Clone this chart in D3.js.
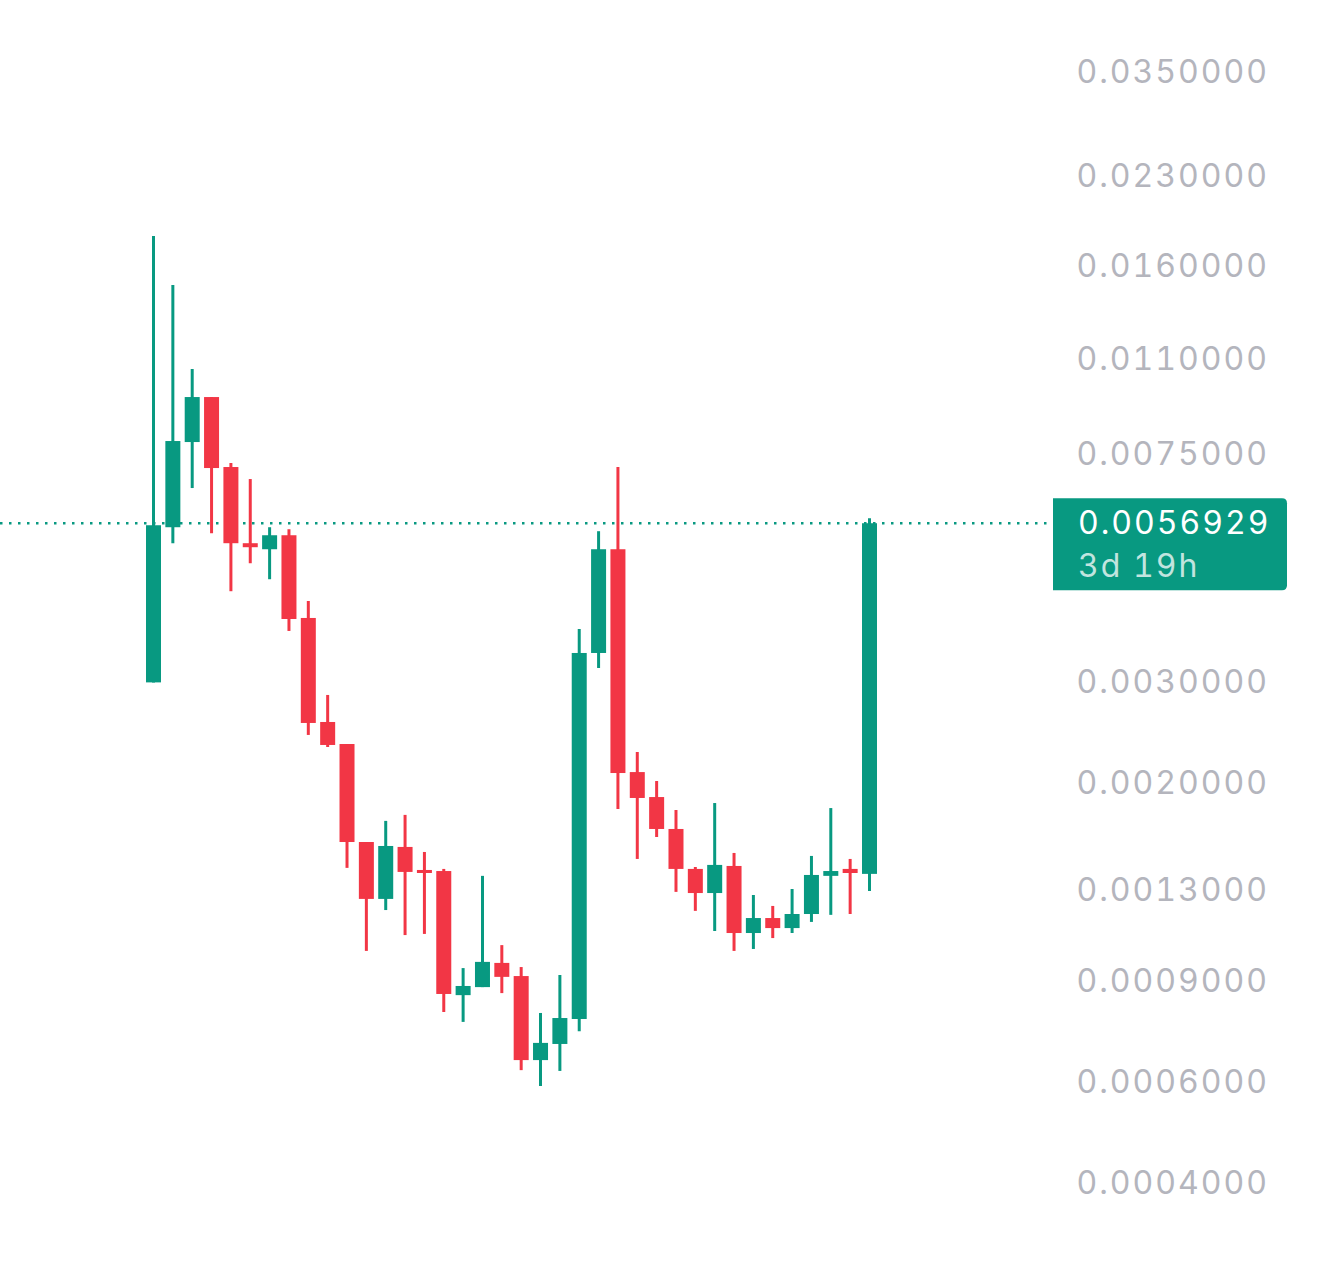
<!DOCTYPE html>
<html>
<head>
<meta charset="utf-8">
<script src="https://cdn.jsdelivr.net/npm/d3@7"></script>
<style>
  html, body { margin: 0; padding: 0; background: #fff; }
  svg { display: block; }
  text { font-variant-numeric: tabular-nums; font-feature-settings: "tnum" 1; }
</style>
</head>
<body>
<div id="chart"></div>
<script>
// daily candles, oldest first
var opens  = [0.003000, 0.005602, 0.007893, 0.009460, 0.007138, 0.005253, 0.005127, 0.005424, 0.003888, 0.002558,
              0.002341, 0.001578, 0.001255, 0.001547, 0.001410, 0.001404, 0.000852, 0.000880, 0.000970, 0.000920,
              0.000656, 0.000700, 0.000774, 0.003377, 0.005127, 0.002091, 0.001891, 0.001663, 0.001416, 0.001285,
              0.001433, 0.001094, 0.001162, 0.001116, 0.001181, 0.001377, 0.001416, 0.001388];
var highs  = [0.018090, 0.014850, 0.010590, 0.009460, 0.007254, 0.006801, 0.005602, 0.005557, 0.004163, 0.002852,
              0.002341, 0.001578, 0.001718, 0.001760, 0.001516, 0.001416, 0.000950, 0.001377, 0.001042, 0.000954,
              0.000793, 0.000924, 0.003719, 0.005513, 0.007138, 0.002267, 0.002017, 0.001795, 0.001427, 0.001846,
              0.001510, 0.001275, 0.001220, 0.001306, 0.001492, 0.001809, 0.001474, 0.005809];
var lows   = [0.003000, 0.005253, 0.006559, 0.005468, 0.004330, 0.004846, 0.004544, 0.003690, 0.002428, 0.002313,
              0.001422, 0.001018, 0.001200, 0.001085, 0.001090, 0.000796, 0.000765, 0.000880, 0.000859, 0.000630,
              0.000591, 0.000628, 0.000737, 0.003179, 0.001802, 0.001474, 0.001610, 0.001291, 0.001196, 0.001103,
              0.001018, 0.001026, 0.001072, 0.001094, 0.001144, 0.001177, 0.001181, 0.001296];
var closes = [0.005647, 0.007925, 0.009460, 0.007109, 0.005253, 0.005169, 0.005424, 0.003872, 0.002548, 0.002332,
              0.001578, 0.001255, 0.001553, 0.001399, 0.001393, 0.000856, 0.000884, 0.000974, 0.000917, 0.000656,
              0.000703, 0.000777, 0.003377, 0.005127, 0.002083, 0.001884, 0.001663, 0.001416, 0.001285, 0.001439,
              0.001094, 0.001162, 0.001116, 0.001181, 0.001382, 0.001404, 0.001393, 0.0056929];

var priceTicks = [0.035, 0.023, 0.016, 0.011, 0.0075, 0.003, 0.002, 0.0013, 0.0009, 0.0006, 0.0004, 0.00026];
var lastLabel = "0.0056929";
var countdown = "3d 19h";

var width = 1320, height = 1277;
var up = "#089981", down = "#f23645";
var fontSize = "32px", spacing = "2px";

var candles = opens.map(function (o, i) {
  return { i: i, open: o, high: highs[i], low: lows[i], close: closes[i] };
});

var svg = d3.select("#chart").append("svg").
attr("width", width).
attr("height", height).
style("font-family", "Inter, 'Noto Sans', sans-serif");

svg.append("rect").attr("width", width).attr("height", height).attr("fill", "#fff");

var xScale = d3.scalePoint().domain(d3.range(candles.length)).range([153.5, 869.5]);
var yScale = d3.scaleLog().domain([0.035, 0.0004]).range([72, 1183]);

// price axis
var yAxis = d3.axisLeft(yScale).tickValues(priceTicks).tickFormat(d3.format(".7f")).
tickSize(0).tickPadding(0);

var ax = svg.append("g").
attr("transform", "translate(1269,0)").
call(yAxis);
ax.select(".domain").remove();
ax.selectAll("text").
attr("fill", "#b4b5bd").
style("font-size", fontSize).
style("letter-spacing", spacing).
style("font-family", "Inter, 'Noto Sans', sans-serif");

// last price line
var lastY = yScale(closes[closes.length - 1]);
svg.append("line").
attr("x1", 0).attr("x2", 1053).
attr("y1", lastY).attr("y2", lastY).
attr("stroke", up).
attr("stroke-width", 2.5).
attr("stroke-dasharray", "2.5 6.5");

// candles
var g = svg.append("g");
g.selectAll("line.wick").
data(candles).
enter().
append("line").
attr("class", "wick").
attr("x1", function (d) {return xScale(d.i);}).
attr("x2", function (d) {return xScale(d.i);}).
attr("y1", function (d) {return yScale(d.high);}).
attr("y2", function (d) {return yScale(d.low);}).
attr("stroke", function (d) {return d.close >= d.open ? up : down;}).
attr("stroke-width", 3);

g.selectAll("rect.body").
data(candles).
enter().
append("rect").
attr("class", "body").
attr("x", function (d) {return xScale(d.i) - 7.5;}).
attr("width", 15).
attr("y", function (d) {return yScale(Math.max(d.open, d.close));}).
attr("height", function (d) {
  return Math.max(3, Math.abs(yScale(d.open) - yScale(d.close)));
}).
attr("fill", function (d) {return d.close >= d.open ? up : down;});

// last price badge
var bx = 1053, bw = 234, bh = 92, r = 5, by = lastY - 25;
svg.append("path").
attr("d", "M" + bx + "," + by +
  "H" + (bx + bw - r) + "Q" + (bx + bw) + "," + by + " " + (bx + bw) + "," + (by + r) +
  "V" + (by + bh - r) + "Q" + (bx + bw) + "," + (by + bh) + " " + (bx + bw - r) + "," + (by + bh) +
  "H" + bx + "Z").
attr("fill", up);

svg.append("text").
attr("x", 1078).
attr("y", lastY).
attr("dy", "0.35em").
attr("fill", "#fff").
style("font-size", fontSize).
style("letter-spacing", spacing).
text(lastLabel);

svg.append("text").
attr("x", 1078).
attr("y", lastY + 43).
attr("dy", "0.35em").
attr("fill", "rgba(255,255,255,0.75)").
style("font-size", fontSize).
style("letter-spacing", spacing).
text(countdown);
</script>
</body>
</html>
